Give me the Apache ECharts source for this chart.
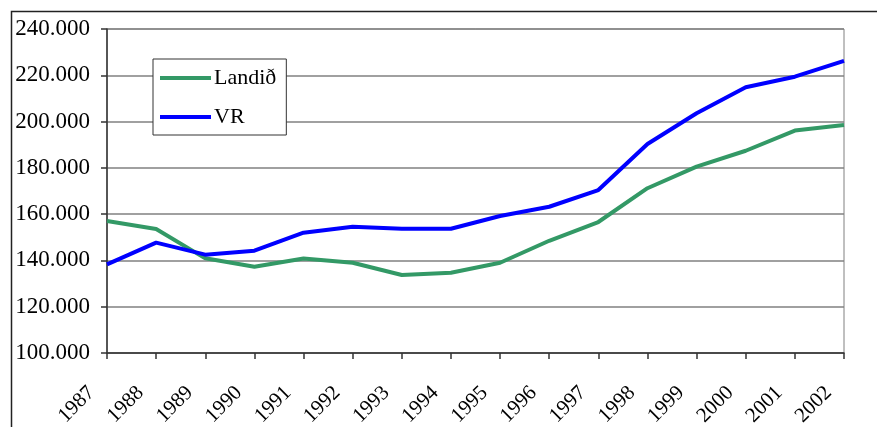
<!DOCTYPE html>
<html>
<head>
<meta charset="utf-8">
<script src="https://cdn.jsdelivr.net/npm/echarts@6/dist/echarts.min.js"></script>
<style>html,body{margin:0;padding:0;background:#fff}#c{width:877px;height:427px}</style>
</head>
<body>
<div id="c"></div>
<script>
var years = ['1987','1988','1989','1990','1991','1992','1993','1994','1995','1996','1997','1998','1999','2000','2001','2002'];
var landid = [157000,153600,140900,137300,140800,139000,133700,134700,139000,148500,156600,171200,180500,187400,196100,198500];
var vr = [138300,147700,142500,144200,152000,154600,153700,153700,159200,163200,170400,190300,203600,214800,219400,226200];
var seriesNames = ['Landið','VR'];

var chart = echarts.init(document.getElementById('c'));
var font = 'Liberation Serif, Times New Roman, serif';
chart.setOption({
  animation: false,
  graphic: [{
    type: 'rect', left: 9, top: 9, shape: {width: 900, height: 500},
    style: {fill: 'none', stroke: '#222', lineWidth: 1.5}, silent: true, z: -1
  }],
  grid: {left: 107, right: 33, top: 29, bottom: 74, show: true, borderColor: '#808080', borderWidth: 1,
    containLabel: false, outerBoundsMode: 'none'},
  legend: {
    orient: 'vertical', left: 153, top: 59, width: 132,
    padding: [8, 10, 7, 7], itemGap: 17,
    itemWidth: 51, itemHeight: 4,
    icon: 'rect',
    borderColor: '#333', borderWidth: 1,
    backgroundColor: '#fff',
    textStyle: {fontFamily: font, fontSize: 22, color: '#000', padding: [0,0,0,-2]},
    data: seriesNames
  },
  xAxis: {
    type: 'category', data: years, boundaryGap: false,
    axisLine: {lineStyle: {color: '#333', width: 1.5}},
    axisTick: {show: true, alignWithLabel: true, length: 6, lineStyle: {color: '#333', width: 1.5}},
    axisLabel: {rotate: 45, interval: 0, fontFamily: font, fontSize: 21, color: '#000', margin: 21,
      padding: [0, 22, 0, 0], hideOverlap: false},
    splitLine: {show: false}
  },
  yAxis: {
    type: 'value', min: 100000, max: 240000, interval: 20000,
    axisLine: {show: true, lineStyle: {color: '#333', width: 1.5}},
    axisTick: {show: true, length: 6, lineStyle: {color: '#333', width: 1.5}},
    axisLabel: {fontFamily: font, fontSize: 23, color: '#000', margin: 17,
      formatter: function (v) { return Math.floor(v / 1000) + '.' + ('00' + (v % 1000)).slice(-3); }},
    splitLine: {show: true, lineStyle: {color: '#808080', width: 1.5}}
  },
  series: [
    {name: seriesNames[0], type: 'line', data: landid, symbol: 'none', color: '#339966',
      lineStyle: {color: '#339966', width: 4}},
    {name: seriesNames[1], type: 'line', data: vr, symbol: 'none', color: '#0000FF',
      lineStyle: {color: '#0000FF', width: 4}}
  ]
});
</script>
</body>
</html>
